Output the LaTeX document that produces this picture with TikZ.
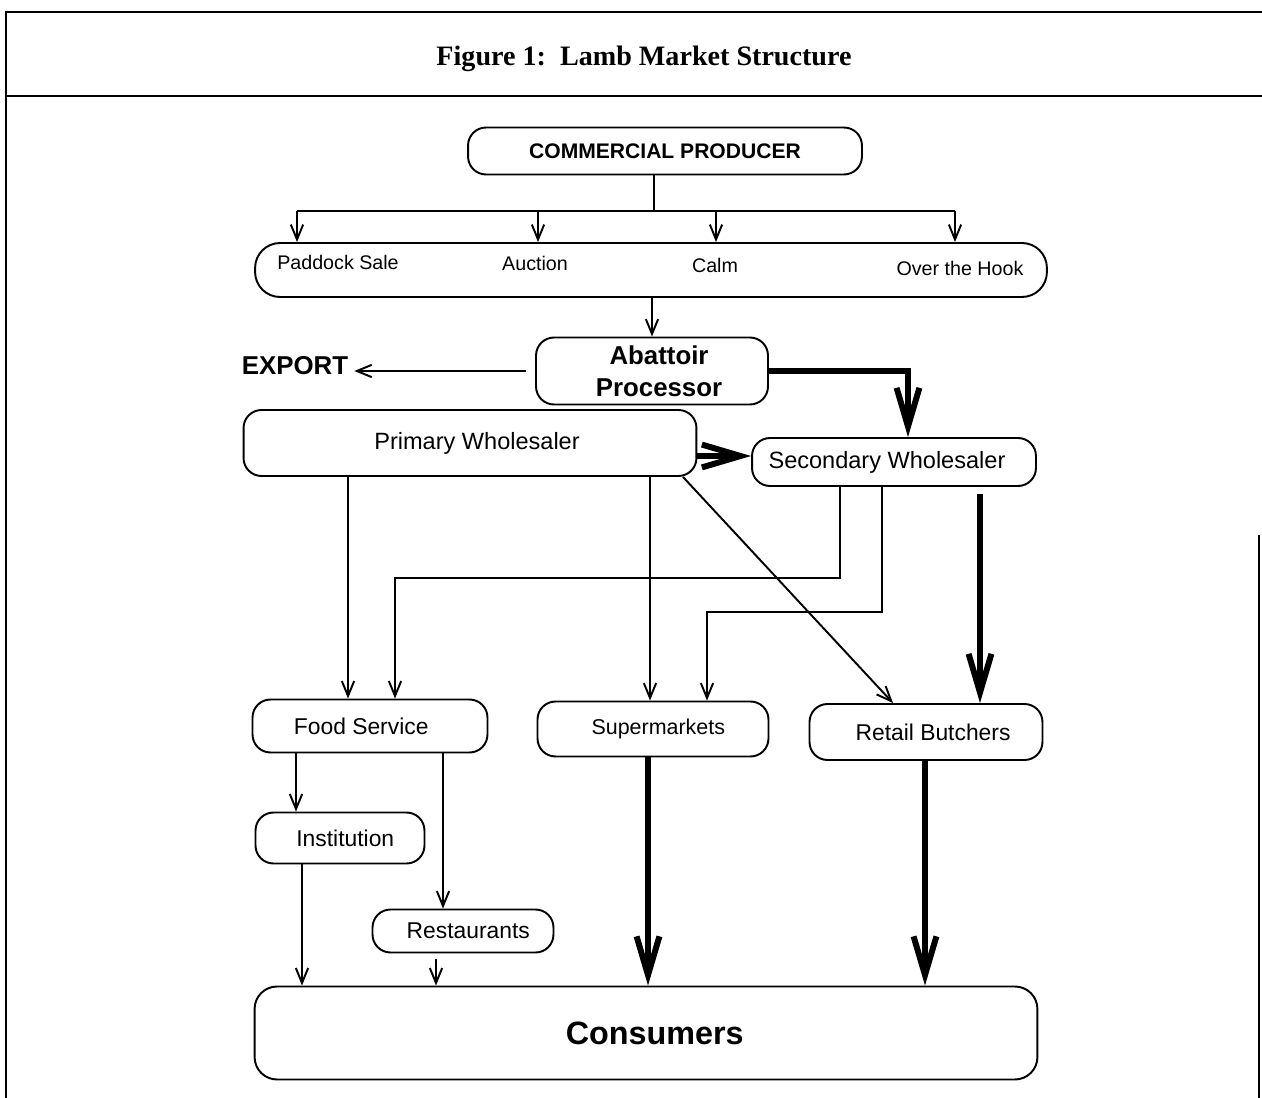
\documentclass[tikz,border=0pt]{standalone}
\usepackage{fontspec}
\setmainfont{Liberation Serif}
\setsansfont{Liberation Sans}
\usetikzlibrary{arrows.meta}

\tikzset{
  outlet/.style={draw, rounded corners=0.36cm, line width=1.1pt, inner sep=0pt,
    align=center, font=\sffamily\fontsize{13}{15}\selectfont},
  channel/.style={font=\sffamily\fontsize{11.2}{13}\selectfont},
  heavy/.style={font=\sffamily\bfseries\fontsize{14.7}{18}\selectfont},
  flow/.style={line width=1.1pt, -{Straight Barb[length=8.5pt,width=7pt]}},
  mainflow/.style={line width=3.4pt, -{Straight Barb[length=22pt,width=13pt]}},
}

\begin{document}
\begin{tikzpicture}[x=0.02cm, y=-0.02cm]
\useasboundingbox (0,0) rectangle (1262,1098);

%% frame and title
\draw[line width=1.3pt] (6,1098) -- (6,12) -- (1262,12);
\draw[line width=1.3pt] (6,96) -- (1262,96);
\draw[line width=1.3pt] (1259,535) -- (1259,1098);
\node (title) at (644,59) {\bfseries\fontsize{16}{19}\selectfont Figure 1:\ \ Lamb Market Structure};

%% PRODUCER and selling methods
\node[outlet, minimum width=7.88cm, minimum height=0.94cm,
  font=\sffamily\bfseries\fontsize{12}{14}\selectfont] (producer) at (665,151) {COMMERCIAL PRODUCER};
\node[outlet, minimum width=15.84cm, minimum height=1.08cm, rounded corners=0.5cm] (market) at (651,270) {};
\node[channel] (paddock) at (338,262) {Paddock Sale};
\node[channel] (auction) at (535,263) {Auction};
\node[channel] (calm) at (715,265) {Calm};
\node[channel] (hook) at (960,268) {Over the Hook};

\coordinate (split) at (654,211);
\coordinate (br_paddock) at (297,211);
\coordinate (br_auction) at (538,211);
\coordinate (br_calm) at (716,211);
\coordinate (br_hook) at (955,211);

\draw[line width=1.1pt] (producer.south -| split) -- (split);
\draw[line width=1.1pt] (br_paddock) -- (br_hook);
\draw[flow] (br_paddock) -- (br_paddock |- market.north);
\draw[flow] (br_auction) -- (br_auction |- market.north);
\draw[flow] (br_calm) -- (br_calm |- market.north);
\draw[flow] (br_hook) -- (br_hook |- market.north);

%% PROCESSING
\node[outlet, heavy, minimum width=4.64cm, minimum height=1.34cm] (abattoir) at (652,371) {\hspace{8pt}Abattoir\\\hspace{8pt}Processor};
\node[heavy] (export) at (295,366) {EXPORT};

\draw[flow] (abattoir.north |- market.south) -- (abattoir.north);
\draw[flow, shorten <=5pt] (abattoir.west) -- (export.east |- abattoir.west);

%% WHOLESALERS
\node[outlet, minimum width=9.06cm, minimum height=1.32cm, font=\sffamily\fontsize{13.4}{15}\selectfont] (primary) at (470,443) {\hspace{8pt}Primary Wholesaler};
\node[outlet, minimum width=5.68cm, minimum height=0.96cm, font=\sffamily\fontsize{13.4}{15}\selectfont] (secondary) at (894,462) {Secondary Wholesaler\hspace{8pt}};

\draw[mainflow] (abattoir.east) -| (908,0 |- secondary.north);
\draw[mainflow] (primary.east |- 0,456) -- (secondary.west |- 0,456);

%% RETAIL outlets
\node[outlet, minimum width=4.70cm, minimum height=1.06cm] (food) at (370,726) {Food Service\hspace{10pt}};
\node[outlet, minimum width=4.62cm, minimum height=1.10cm, font=\sffamily\fontsize{12.2}{15}\selectfont] (super) at (653,729) {\hspace{6pt}Supermarkets};
\node[outlet, minimum width=4.66cm, minimum height=1.12cm] (retail) at (926,732) {\hspace{8pt}Retail Butchers};

\draw[flow] (348,0 |- primary.south) -- (348,0 |- food.north);
\draw[flow] (840,0 |- secondary.south) |- (395,578) -- (395,0 |- food.north);
\draw[flow] (650,0 |- primary.south) -- (650,0 |- super.north);
\draw[flow] (882,0 |- secondary.south) |- (707,612) -- (707,0 |- super.north);
\draw[flow] (683,0 |- primary.south) -- (893,0 |- retail.north);
\draw[mainflow, shorten <=4pt] (980,0 |- secondary.south) -- (980,0 |- retail.north);

%% FOOD SERVICE split
\node[outlet, minimum width=3.38cm, minimum height=1.02cm] (institution) at (340,838) {\hspace{6pt}Institution};
\node[outlet, minimum width=3.62cm, minimum height=0.86cm] (restaurants) at (463,931) {\hspace{6pt}Restaurants};

\draw[flow] (296,0 |- food.south) -- (296,0 |- institution.north);
\draw[flow] (443,0 |- food.south) -- (443,0 |- restaurants.north);

%% CONSUMERS
\node[outlet, minimum width=15.66cm, minimum height=1.86cm, rounded corners=0.45cm,
  font=\sffamily\bfseries\fontsize{18.4}{22}\selectfont] (consumers) at (646,1033) {\hspace{10pt}Consumers};

\draw[flow] (302,0 |- institution.south) -- (302,0 |- consumers.north);
\draw[flow, shorten <=3pt] (436,0 |- restaurants.south) -- (436,0 |- consumers.north);
\draw[mainflow] (648,0 |- super.south) -- (648,0 |- consumers.north);
\draw[mainflow] (925,0 |- retail.south) -- (925,0 |- consumers.north);

\end{tikzpicture}
\end{document}
